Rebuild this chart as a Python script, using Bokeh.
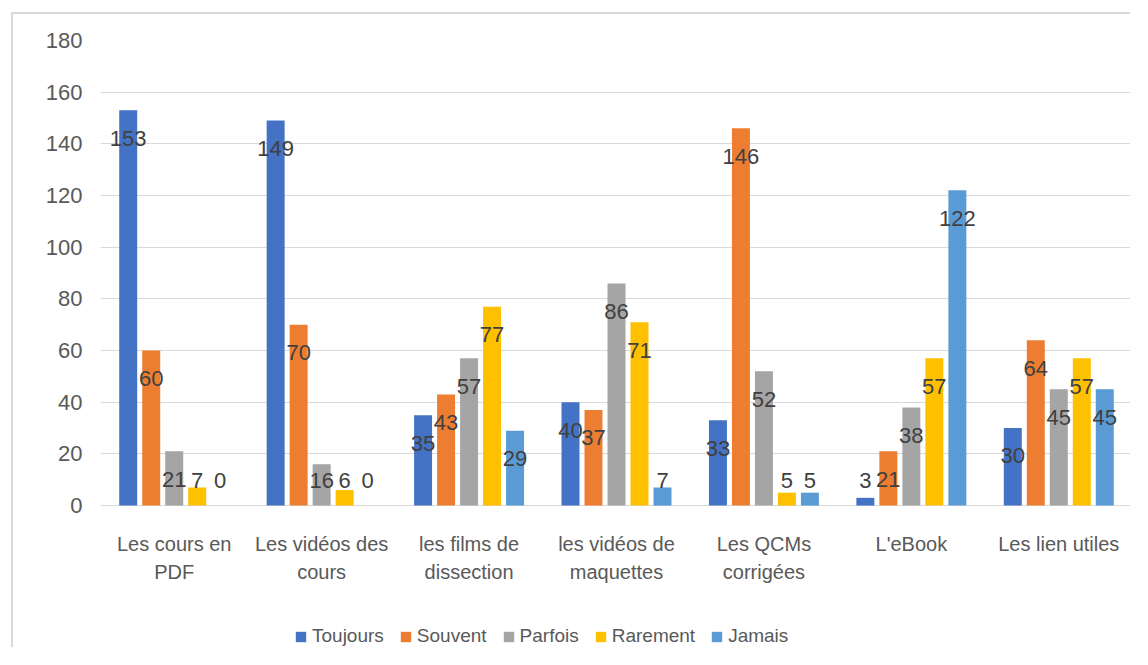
from bokeh.plotting import figure
from bokeh.models import FactorRange, Range1d, Legend, LegendItem, ColumnDataSource, FixedTicker
from bokeh.transform import dodge
from bokeh.core.properties import value
from bokeh.embed import file_html
from bokeh.resources import INLINE
import numpy as np

categories = ["Les cours en\nPDF", "Les vidéos des\ncours", "les films de\ndissection",
              "les vidéos de\nmaquettes", "Les QCMs\ncorrigées", "L'eBook", "Les lien utiles"]
series = ["Toujours", "Souvent", "Parfois", "Rarement", "Jamais"]
toujours = [153, 149, 35, 40, 33, 3, 30]
souvent = [60, 70, 43, 37, 146, 21, 64]
parfois = [21, 16, 57, 86, 52, 38, 45]
rarement = [7, 6, 77, 71, 5, 57, 57]
jamais = [0, 0, 29, 7, 5, 122, 45]
colors = ["#4472C4", "#ED7D31", "#A5A5A5", "#FFC000", "#5B9BD5"]
y_ticks = [0, 20, 40, 60, 80, 100, 120, 140, 160, 180]

values = [toujours, souvent, parfois, rarement, jamais]
FONT = "Liberation Sans"

# frame runs to the bottom of the figure so the legend can sit inside it;
# the category axis is pinned at y = 0
p = figure(x_range=FactorRange(*categories, range_padding=0), y_range=Range1d(-55.7, 180),
           width=1119, height=635, output_backend="svg", toolbar_location=None,
           min_border_left=87, min_border_right=0, min_border_top=26, min_border_bottom=0)
p.margin = (12, 0, 0, 11)
p.styles = {"border-top": "2px solid #d9d9d9", "border-left": "2px solid #d9d9d9"}
p.outline_line_color = None
p.background_fill_color = "white"
p.border_fill_color = "white"

data = dict(cat=categories)
for name, vals in zip(series, values):
    v = np.array(vals, dtype=float)
    data[name] = v
    data[name + "_ly"] = np.maximum(v - 10.8, 9.7)
    data[name + "_t"] = [str(int(a)) for a in vals]
src = ColumnDataSource(data)

step = 0.156
bw = 0.122
items = []
for k, (name, c) in enumerate(zip(series, colors)):
    off = (k - 2) * step
    r = p.vbar(x=dodge("cat", off, range=p.x_range), top=name, bottom=0, width=bw, source=src,
               fill_color=c, line_color=None)
    items.append(LegendItem(label=name, renderers=[r]))
for k, name in enumerate(series):
    off = (k - 2) * step
    p.text(x=dodge("cat", off, range=p.x_range), y=name + "_ly", text=name + "_t", source=src,
           text_align="center", text_baseline="middle", text_font=value(FONT),
           text_font_size="22px", text_color="#404040")

p.xgrid.grid_line_color = None
p.ygrid.grid_line_color = "#d9d9d9"
p.ygrid.grid_line_width = 1
p.yaxis.ticker = FixedTicker(ticks=y_ticks)
for ax in (p.xaxis, p.yaxis):
    ax.axis_line_color = None
    ax.major_tick_line_color = None
    ax.minor_tick_line_color = None
    ax.major_tick_out = 0
    ax.major_label_text_font = FONT
    ax.major_label_text_color = "#595959"
p.yaxis.major_label_text_font_size = "22px"
p.yaxis.major_label_standoff = 18
p.xaxis.fixed_location = 0
p.xaxis.major_label_text_font_size = "20px"
p.xaxis.major_label_text_line_height = 1.3
p.xaxis.major_label_standoff = 27

legend = Legend(items=items, orientation="horizontal", location=(194, 2),
                glyph_width=13, glyph_height=13, label_standoff=5, spacing=15,
                padding=0, margin=0, border_line_color=None, background_fill_alpha=0,
                label_text_font=FONT, label_text_font_size="19px", label_text_color="#595959")
p.add_layout(legend, "center")

open("out.html", "w").write(file_html(p, INLINE))
